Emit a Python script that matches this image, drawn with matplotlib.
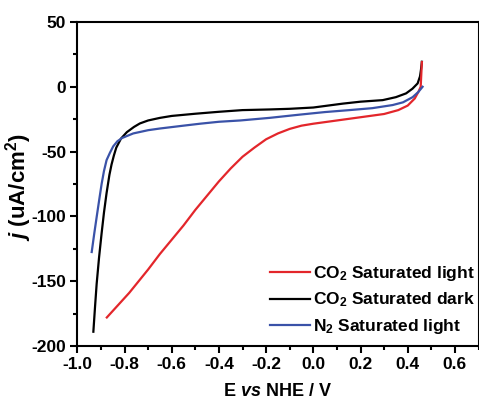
import matplotlib
matplotlib.use("Agg")
import matplotlib.pyplot as plt
from matplotlib.ticker import MultipleLocator

plt.rcParams['font.family'] = ['Liberation Sans', 'DejaVu Sans']
plt.rcParams['font.weight'] = 'bold'
plt.rcParams['mathtext.fontset'] = 'custom'
plt.rcParams['mathtext.rm'] = 'Liberation Sans:bold'
plt.rcParams['mathtext.bf'] = 'Liberation Sans:bold'
plt.rcParams['mathtext.it'] = 'Liberation Sans:bold:italic'

# CO2 saturated, light
E_co2_light = [-0.875, -0.78, -0.70, -0.65, -0.60, -0.55, -0.50, -0.45, -0.40, -0.35,
               -0.30, -0.25, -0.20, -0.15, -0.10, -0.05, 0.0, 0.10, 0.20, 0.30,
               0.36, 0.40, 0.43, 0.445, 0.455, 0.46]
j_co2_light = [-178, -159, -141, -129, -118, -107, -95, -84, -73, -63,
               -54, -47, -40.5, -36, -32.5, -30, -28.5, -26, -23.5, -21,
               -18, -14.5, -9, -4, 0, 19]

# CO2 saturated, dark
E_co2_dark = [-0.932, -0.925, -0.918, -0.908, -0.897, -0.887, -0.876, -0.864, -0.855,
              -0.845, -0.835, -0.815, -0.79, -0.76, -0.735, -0.70, -0.65, -0.60, -0.50,
              -0.40, -0.30, -0.186, -0.10, 0.0, 0.125, 0.20, 0.294, 0.35, 0.393,
              0.42, 0.442, 0.452, 0.456, 0.46]
j_co2_dark = [-189, -170, -152, -132, -113, -97, -82, -68, -60,
              -53, -47, -40, -35, -31, -28.3, -26, -24, -22.5, -20.8,
              -19.3, -18, -17.5, -17, -16, -13, -11.5, -10.3, -8, -5.1,
              -1.5, 2.6, 8, 12.9, 19.3]

# N2 saturated, light
E_n2_light = [-0.939, -0.928, -0.918, -0.907, -0.897, -0.887, -0.876, -0.862, -0.848,
              -0.83, -0.81, -0.763, -0.70, -0.65, -0.55, -0.48, -0.40, -0.31, -0.186,
              -0.058, 0.05, 0.153, 0.25, 0.336, 0.38, 0.421, 0.445, 0.463]
j_n2_light = [-127.5, -113, -100.5, -87, -75, -65, -56.6, -51, -46,
              -42, -39.5, -36, -33.5, -32.2, -30, -28.5, -27, -26, -24,
              -21.5, -19.5, -18, -16.5, -14.1, -12, -8, -4, 0]

red = '#e3262b'
blue = '#3a52a8'

fig = plt.figure(figsize=(4.79, 4.01), dpi=100)
ax = fig.add_axes([0.1614, 0.1372, 0.8376, 0.808])

l2, = ax.plot(E_co2_dark, j_co2_dark, color='black', lw=1.6)
l1, = ax.plot(E_co2_light, j_co2_light, color=red, lw=1.6)
l3, = ax.plot(E_n2_light, j_n2_light, color=blue, lw=1.6)

ax.set_xlim(-1.0, 0.7)
ax.set_ylim(-200, 50)
ax.xaxis.set_minor_locator(MultipleLocator(0.1))
ax.yaxis.set_minor_locator(MultipleLocator(25))
ax.set_xticks([-1.0, -0.8, -0.6, -0.4, -0.2, 0.0, 0.2, 0.4, 0.6])
ax.set_xticklabels(['-1.0', '-0.8', '-0.6', '-0.4', '-0.2', '0.0', '0.2', '0.4', '0.6'])
ax.set_yticks([50, 0, -50, -100, -150, -200])
ax.set_yticklabels(['50', '0', '-50', '-100', '-150', '-200'])
ax.tick_params(which='major', direction='out', length=5, width=1.5, labelsize=12.5, pad=3)
ax.tick_params(which='minor', direction='out', length=3, width=1.5)
for s in ax.spines.values():
    s.set_linewidth(1.5)

ax.set_xlabel('E $vs$ NHE / V', fontsize=13, fontweight='bold', labelpad=8)
ax.set_ylabel('$j$ (uA/cm$^2$)', fontsize=16, fontweight='bold')
ax.yaxis.set_label_coords(-0.108, 0.49)

ax.legend([l1, l2, l3],
          ['CO$_2$ Saturated light', 'CO$_2$ Saturated dark', 'N$_2$ Saturated light'],
          loc='lower right', bbox_to_anchor=(0.99, 0.03), frameon=False,
          fontsize=12.5, handlelength=2.3, handletextpad=0.15, labelspacing=0.45,
          borderpad=0, borderaxespad=0)

fig.savefig('out.png', dpi=100)
